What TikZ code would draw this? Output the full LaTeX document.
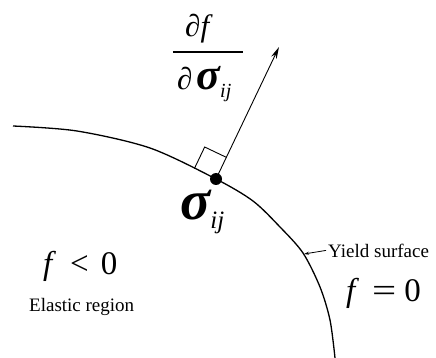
\documentclass[tikz,border=0pt]{standalone}
\usepackage{fontspec}
\setmainfont{Liberation Serif}
\usetikzlibrary{calc,arrows.meta}
\begin{document}
\begin{tikzpicture}[x=1pt,y=-1pt,
  curveline/.style={line width=1.3pt},
  thinline/.style={line width=0.9pt},
  lbl/.style={inner sep=0pt, anchor=base west},
  big/.style={font=\fontsize{31}{34}\selectfont},
  bigger/.style={font=\fontsize{33}{36}\selectfont},
  small/.style={font=\fontsize{19}{22}\selectfont}]
\useasboundingbox (0,0) rectangle (436,358);
% yield surface
\draw[curveline] plot[smooth, tension=0.5] coordinates {(13,126) (77,131) (150,148) (216,179) (253,201) (280,227) (303,253) (320,287) (330,320) (335,358)};
% stress point
\node[circle, fill, inner sep=0pt, minimum size=12pt] (s) at (216,179) {};
\coordinate (tip) at (279,47);
\draw[thinline, -{Stealth[length=12pt,width=6pt]}] (s.center) -- (tip);
% right-angle mark
\coordinate (na) at ($(s.center)!24pt!(tip)$);
\coordinate (ta) at ($(s.center)!24pt!90:(tip)$);
\coordinate (ca) at ($(na)+(ta)-(s.center)$);
\draw[thinline] (na) -- (ca) -- (ta);
% normal label (fraction)
\node[lbl, big] (num) at (185,37) {∂\textit{f}};
\node[inner sep=0pt, minimum width=70pt, minimum height=0pt] (bar) at (208,52) {};
\draw[line width=1.3pt] (bar.west) -- (bar.east);
\node[lbl, big] (den) at (177,90) {∂\hspace{4pt}{\fontsize{44}{44}\selectfont\bfseries\itshape σ}\raisebox{-8pt}{\fontsize{20}{20}\selectfont\textit{ij}}};
% sigma label
\node[lbl] (sl) at (180,219) {{\fontsize{56}{56}\selectfont\bfseries\itshape σ}\raisebox{-9pt}{\fontsize{25}{25}\selectfont\textit{ij}}};
% regions
\node[lbl, bigger] (fneg) at (43,274) {\textit{f}\hspace{14pt}<\hspace{12pt}0};
\node[lbl, small] (el) at (29,311) {Elastic region};
\node[lbl, small] (ys) at (328,257) {Yield surface};
\coordinate (yp) at (304,254);
\draw[line width=0.8pt, -{Stealth[length=5pt,width=3pt]}] ([xshift=-2pt]ys.west) -- (yp);
\node[lbl, bigger] (fzero) at (346,301) {\textit{f}\hspace{13pt}\scalebox{1.3}[1]{=}\hspace{8pt}0};
\end{tikzpicture}
\end{document}
